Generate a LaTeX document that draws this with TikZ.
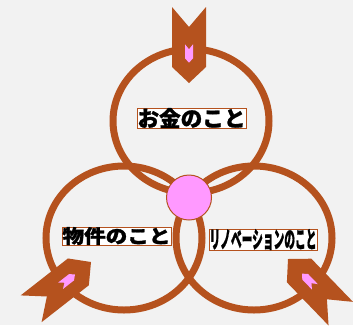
\documentclass[tikz,border=0pt]{standalone}
\usepackage{fontspec}
\usepackage{graphicx}
\newfontfamily\jp{Noto Sans CJK JP}[BoldFeatures={FakeBold=1.2}]
\definecolor{ring}{RGB}{181,82,30}
\definecolor{dot}{RGB}{255,153,255}
\definecolor{bg}{RGB}{242,242,242}
\tikzset{
  ringstyle/.style={draw=ring,line width=7pt},
  tag/.style={draw=ring,line width=0.8pt,fill=white,inner xsep=0.5pt,inner ysep=0pt},
  chevron/.pic={
    \fill[ring] (0,0) -- (-16,17) -- (-76,17) -- (-56,0) -- (-76,-17) -- (-16,-17) -- cycle;
    \fill[dot] (-20.3,0) -- (-24.7,4) -- (-38.7,4) -- (-33.7,0) -- (-38.7,-4) -- (-24.7,-4) -- cycle;
  }
}
\begin{document}
\begin{tikzpicture}[x=1pt,y=-1pt]
\useasboundingbox (0,0) rectangle (353,325);
\fill[bg] (0,0) rectangle (353,325);
% rings
\draw[ringstyle] (191,121) ellipse [x radius=78, y radius=72];
\draw[ringstyle] (124,238) ellipse [x radius=78, y radius=72];
\draw[ringstyle] (254,238) ellipse [x radius=78, y radius=72];
% arrows
\pic[rotate=-90] at (189,83) {chevron};
\pic[rotate=38] at (91,262) {chevron};
\pic[rotate=134] at (288,259) {chevron};
% labels
\node[tag] (money) at (191.5,118) {\resizebox*{108pt}{20pt}{\jp\bfseries お金のこと}};
\node[tag] (estate) at (116.5,236) {\resizebox*{108pt}{18pt}{\jp\bfseries 物件のこと}};
\node[tag] (reno) at (263,239.5) {\resizebox*{107pt}{21pt}{\jp\bfseries リノベーションのこと}};
% hub
\node[circle,fill=dot,draw=ring,line width=1pt,minimum size=45pt,inner sep=0pt] (hub) at (189,197.5) {};
\end{tikzpicture}
\end{document}
